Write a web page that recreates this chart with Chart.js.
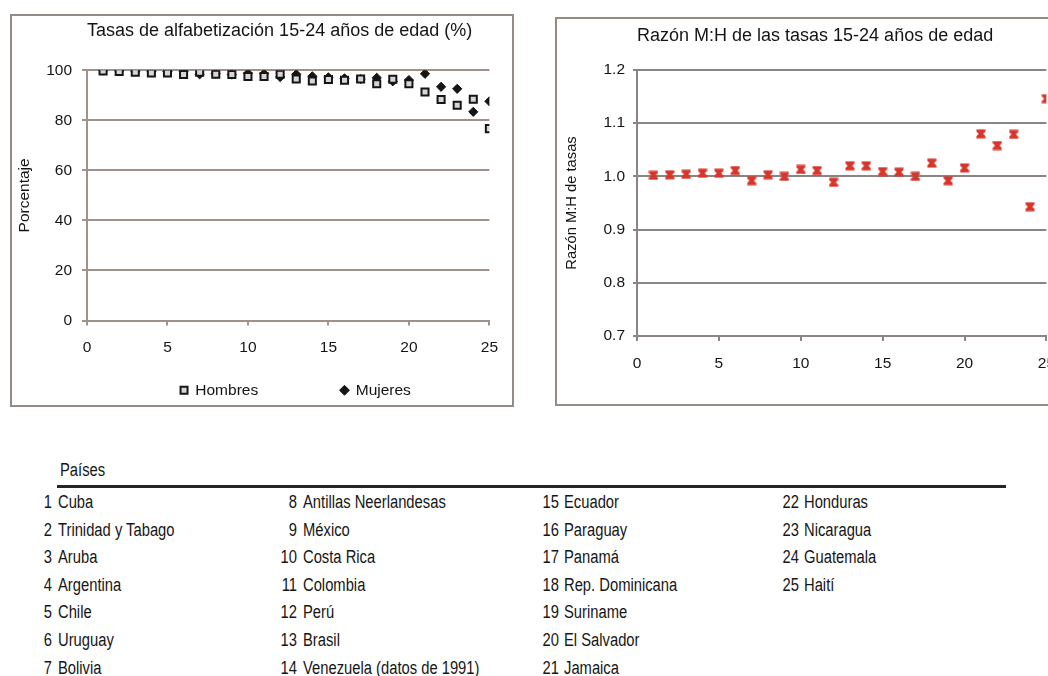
<!DOCTYPE html>
<html><head><meta charset="utf-8">
<script src="https://cdn.jsdelivr.net/npm/chart.js@4.4.0/dist/chart.umd.min.js"></script>
<style>
html,body{margin:0;padding:0;background:#fff;width:1048px;height:676px;overflow:hidden;position:relative}
.box{position:absolute;border:2px solid #948a86;box-sizing:border-box;}
.cv{position:absolute}
.t{position:absolute;white-space:nowrap;color:#161616;line-height:20px;height:20px}
#rule{position:absolute;left:57px;top:485px;width:949px;height:3px;background:#262626}
</style></head><body>
<div class="box" style="left:10px;top:14px;width:504px;height:393px"></div>
<div class="cv" style="left:12px;top:16px;width:499px;height:388px"><canvas id="cL" width="499" height="388"></canvas></div>
<div class="box" style="left:555px;top:17px;width:520px;height:389px"></div>
<div class="cv" style="left:557px;top:19px;width:511px;height:384px"><canvas id="cR" width="511" height="384"></canvas></div>
<div id="rule"></div>
<div id="table"></div>
<script>
// ---------- data ----------
const countryNames = ['Cuba','Trinidad y Tabago','Aruba','Argentina','Chile','Uruguay','Bolivia',
  'Antillas Neerlandesas','México','Costa Rica','Colombia','Perú','Brasil','Venezuela (datos de 1991)',
  'Ecuador','Paraguay','Panamá','Rep. Dominicana','Suriname','El Salvador','Jamaica',
  'Honduras','Nicaragua','Guatemala','Haití'];
const countryIndex = [1,2,3,4,5,6,7,8,9,10,11,12,13,14,15,16,17,18,19,20,21,22,23,24,25];
const hombres = [99.7,99.5,99.2,98.9,98.9,98.3,99.2,98.4,98.3,97.5,97.5,98.4,96.5,95.7,96.3,96.0,96.5,94.6,96.4,94.6,91.3,88.3,86.0,88.4,76.7];
const mujeres = [99.9,99.8,99.6,99.5,99.5,99.4,98.4,98.7,98.3,98.8,98.6,97.3,98.4,97.6,97.2,96.8,96.5,97.0,95.6,96.1,98.6,93.4,92.6,83.4,87.6];
const razonMH = [1.002,1.003,1.004,1.006,1.006,1.011,0.992,1.003,1.000,1.013,1.011,0.989,1.020,1.020,1.009,1.008,1.000,1.025,0.992,1.016,1.080,1.058,1.079,0.943,1.146];
const xTicks = [0,5,10,15,20,25];
const yTicksLeft = [0,20,40,60,80,100];
const yTicksRight = [0.7,0.8,0.9,1.0,1.1,1.2];
const titleLeft = 'Tasas de alfabetización 15-24 años de edad (%)';
const titleRight = 'Razón M:H de las tasas 15-24 años de edad';

// ---------- fonts ----------
function hasFont(name){
  const c=document.createElement('canvas').getContext('2d');
  const s='abcdefghijklmnopqrstuvwxyz0123456789';
  c.font='40px monospace'; const a=c.measureText(s).width;
  c.font='40px "'+name+'", monospace'; const b=c.measureText(s).width;
  return Math.abs(a-b)>0.5;
}
const NARROW = hasFont('Liberation Sans Narrow');
const FAMN = NARROW ? '"Liberation Sans Narrow", "Liberation Sans", Arial, sans-serif' : '"Liberation Sans", Arial, sans-serif';
const FAMR = '"Liberation Sans", Arial, sans-serif';
const SZ = NARROW ? 18 : 15.5;
const TXT = '#141414';
const GRIDL = '#a0928b';
const GRIDR = '#8a8583';

// ---------- table ----------
const numRight = [52, 297, 559, 799];
const nameLeft = [58, 303, 564, 804];
const tbl = document.getElementById('table');
function addText(txt, left, top, align){
  const d=document.createElement('div'); d.className='t'; d.textContent=txt;
  d.style.fontFamily = NARROW ? FAMN : FAMR;
  d.style.fontSize='18px';
  d.style.top=top+'px';
  if(align==='right'){ d.style.left=(left-40)+'px'; d.style.width='40px'; d.style.textAlign='right';
    if(!NARROW){d.style.transform='scaleX(0.82)'; d.style.transformOrigin='right center';} }
  else { d.style.left=left+'px'; if(!NARROW){d.style.transform='scaleX(0.82)'; d.style.transformOrigin='left center';} }
  tbl.appendChild(d);
}
addText('Países', 60, 460, 'left');
countryNames.forEach((n,i)=>{
  const col=Math.floor(i/7), row=i%7;
  const top = 492 + row*27.6;
  addText(String(countryIndex[i]), numRight[col], top, 'right');
  addText(n, nameLeft[col], top, 'left');
});

// ---------- helpers ----------
const fixTicks = arr => (s => { s.ticks = arr.map(v => ({value:v})); });
function hourglass(color){
  const c=document.createElement('canvas'); c.width=10; c.height=10;
  const g=c.getContext('2d'); g.fillStyle=color; g.beginPath();
  g.moveTo(0.5,0.5); g.lineTo(9.5,0.5); g.lineTo(9.5,2.8); g.lineTo(7.2,5); g.lineTo(9.5,7.2);
  g.lineTo(9.5,9.5); g.lineTo(0.5,9.5); g.lineTo(0.5,7.2); g.lineTo(2.8,5); g.lineTo(0.5,2.8);
  g.closePath(); g.fill(); return c;
}
const mctx=document.createElement('canvas').getContext('2d');
mctx.font = SZ+'px '+FAMN;
const spW = mctx.measureText(' ').width;
const pad = (txt, target) => txt + ' '.repeat(Math.max(0, Math.round((target - mctx.measureText(txt).width)/spW)));

// ---------- left chart ----------
new Chart(document.getElementById('cL'), {
  type:'scatter',
  data:{datasets:[
    {label:pad('Hombres',143), data: countryIndex.map((x,i)=>({x, y:hombres[i]})),
     pointStyle:'rect', pointRadius:5, pointBackgroundColor:'#d6d6d6', pointBorderColor:'#151515', pointBorderWidth:2,
     backgroundColor:'#d6d6d6', borderColor:'#151515'},
    {label:pad('Mujeres',132), data: countryIndex.map((x,i)=>({x, y:mujeres[i]})),
     pointStyle:'rectRot', pointRadius:4.6, pointBackgroundColor:'#151515', pointBorderColor:'#151515', pointBorderWidth:1,
     backgroundColor:'#151515', borderColor:'#151515'}
  ]},
  options:{
    responsive:false, animation:false, devicePixelRatio:1,
    layout:{padding:{left:0,right:19,top:0,bottom:-4}},
    plugins:{
      title:{display:true, text:titleLeft, align:'start', fullSize:false, color:TXT,
        font:{family:FAMR, size:18, weight:'normal'}, padding:{top:4.5, bottom:28.2}},
      legend:{position:'bottom', align:'end', fullSize:false,
        labels:{usePointStyle:true, boxWidth:7, boxHeight:7, padding:1, color:TXT, font:{family:FAMN, size:SZ}}},
      tooltip:{enabled:false}
    },
    scales:{
      x:{type:'linear', min:0, max:25, afterBuildTicks:fixTicks(xTicks),
        grid:{drawOnChartArea:false, drawTicks:true, tickLength:5, color:GRIDL, lineWidth:2},
        border:{display:true, color:GRIDL, width:2},
        ticks:{padding:13, maxRotation:0, color:TXT, font:{family:FAMN, size:SZ}},
        afterFit:s=>{s.height=61;}},
      y:{min:0, max:100, afterBuildTicks:fixTicks(yTicksLeft),
        grid:{color:GRIDL, lineWidth:2, tickLength:5},
        border:{display:true, color:GRIDL, width:2},
        ticks:{padding:10, color:TXT, font:{family:FAMN, size:SZ}},
        title:{display:true, text:'Porcentaje', color:TXT, font:{family:FAMN, size:SZ}, padding:{top:3,bottom:0}},
        afterFit:s=>{s.width=75;}}
    }
  }
});

// ---------- right chart ----------
new Chart(document.getElementById('cR'), {
  type:'scatter',
  data:{datasets:[
    {label:'Razón M:H', data: countryIndex.map((x,i)=>({x, y:razonMH[i]})),
     pointStyle:hourglass('#d8352b'), pointRadius:5, backgroundColor:'#d8352b', borderColor:'#d8352b'}
  ]},
  options:{
    responsive:false, animation:false, devicePixelRatio:1,
    layout:{padding:{left:0,right:0,top:0,bottom:0}},
    plugins:{
      title:{display:true, text:titleRight, align:'start', fullSize:false, color:TXT,
        font:{family:FAMR, size:18, weight:'normal'}, padding:{top:6, bottom:23.4}},
      legend:{display:false},
      tooltip:{enabled:false}
    },
    scales:{
      x:{type:'linear', min:0, max:25, afterBuildTicks:fixTicks(xTicks),
        grid:{drawOnChartArea:false, drawTicks:true, tickLength:5, color:GRIDR, lineWidth:2},
        border:{display:true, color:GRIDR, width:2},
        ticks:{padding:13, maxRotation:0, color:TXT, font:{family:FAMN, size:SZ}},
        afterFit:s=>{s.height=67;}},
      y:{min:0.7, max:1.2, afterBuildTicks:fixTicks(yTicksRight),
        grid:{color:GRIDR, lineWidth:2, tickLength:4},
        border:{display:true, color:GRIDR, width:2},
        ticks:{padding:8, color:TXT, font:{family:FAMN, size:SZ}, callback:v=>Number(v).toFixed(1)},
        title:{display:true, text:'Razón M:H de tasas', color:TXT, font:{family:FAMN, size:SZ*0.95}, padding:{top:6,bottom:0}},
        afterFit:s=>{s.width=80;}}
    }
  }
});
</script>
</body></html>
